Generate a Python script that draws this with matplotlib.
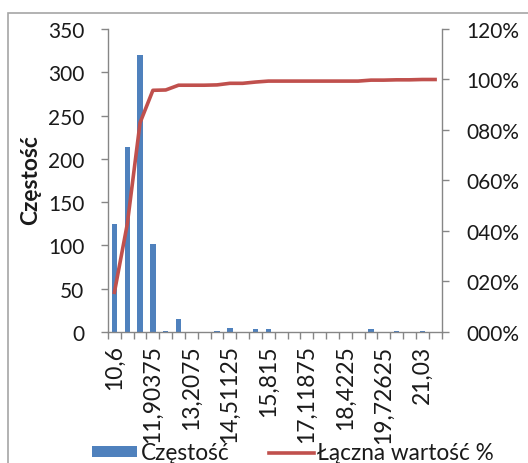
import matplotlib
matplotlib.use("Agg")
import matplotlib.pyplot as plt
from matplotlib.patches import Rectangle
from matplotlib.lines import Line2D
from matplotlib.ticker import FixedLocator, FuncFormatter

plt.rcParams['font.family'] = ['Lato', 'DejaVu Sans']

categories = ["10,6", "11,03458333", "11,46916667", "11,90375", "12,33833333",
              "12,77291667", "13,2075", "13,64208333", "14,07666667", "14,51125",
              "14,94583333", "15,38041667", "15,815", "16,24958333", "16,68416667",
              "17,11875", "17,55333333", "17,98791667", "18,4225", "18,85708333",
              "19,29166667", "19,72625", "20,16083333", "20,59541667", "21,03",
              "21,46458333"]
frequency = [125, 214, 320, 102, 1, 15, 0, 0, 1, 5, 0, 4, 3, 0, 0, 0, 0, 0, 0, 0,
             3, 0, 1, 0, 1, 0]
cumulative_pct = [0.1572, 0.4264, 0.8289, 0.9572, 0.9585, 0.9774, 0.9774, 0.9774,
                  0.9786, 0.9849, 0.9849, 0.9899, 0.9937, 0.9937, 0.9937, 0.9937,
                  0.9937, 0.9937, 0.9937, 0.9937, 0.9975, 0.9975, 0.9987, 0.9987,
                  1.0, 1.0]
left_ticks = [0, 50, 100, 150, 200, 250, 300, 350]
right_ticks = [0.0, 0.2, 0.4, 0.6, 0.8, 1.0, 1.2]
label_every = 3

blue = "#4F81BD"
red = "#C0504D"
axis_col = "#868686"
txt_col = "#1a1a1a"
fs_num = 15
fs_xlab = 16.5
fs_txt = 16.3

W, H = 528, 464
fig = plt.figure(figsize=(W / 100, H / 100), dpi=100)
fig.patch.set_facecolor("white")

# outer chart border
fig.patches.append(Rectangle((8 / W, -0.1), 1.2, (H - 14) / H + 0.1, transform=fig.transFigure,
                             fill=False, edgecolor="#a6a6a6", linewidth=1.2))

ax = fig.add_axes([108 / W, (H - 333) / H, (441.5 - 108) / W, (333 - 30) / H])
x = list(range(len(categories)))
ax.bar(x, frequency, width=0.42, color=blue, zorder=2)
ax.set_xlim(-0.5, len(categories) - 0.5)
ax.set_ylim(0, 350)
ax.set_yticks(left_ticks)
ax.set_xticks(x[::label_every])
ax.set_xticklabels(categories[::label_every], rotation=90, va="top", ha="center")
ax.xaxis.set_minor_locator(FixedLocator([i - 0.5 for i in range(len(categories) + 1)]))
ax.tick_params(axis="x", which="major", length=0, pad=9, labelsize=fs_xlab, labelcolor=txt_col)
ax.tick_params(axis="x", which="minor", length=5, color=axis_col, width=1)
ax.tick_params(axis="y", length=5, color=axis_col, width=1, labelsize=fs_num, labelcolor=txt_col, pad=12)
for s in ["top", "right"]:
    ax.spines[s].set_visible(False)
for s in ["left", "bottom"]:
    ax.spines[s].set_color(axis_col)
    ax.spines[s].set_linewidth(1)
ax.set_ylabel("Częstość", fontsize=fs_txt, fontweight="bold", color=txt_col)
ax.yaxis.set_label_coords(-0.2, 0.505)

ax2 = ax.twinx()
ax2.plot(x, cumulative_pct, color=red, linewidth=2.6, zorder=3, solid_joinstyle="round")
ax2.set_ylim(0, 1.2)
ax2.set_yticks(right_ticks)
ax2.yaxis.set_major_formatter(FuncFormatter(lambda v, p: f"{int(round(v * 100)):03d}%"))
ax2.tick_params(axis="y", length=5, color=axis_col, width=1, labelsize=fs_num, labelcolor=txt_col, pad=13)
for s in ["top", "left", "bottom"]:
    ax2.spines[s].set_visible(False)
ax2.spines["right"].set_color(axis_col)
ax2.spines["right"].set_linewidth(1)

handles = [Rectangle((0, 0), 1, 1, facecolor=blue, edgecolor="none"),
           Line2D([0], [0], color=red, linewidth=2.6)]
fig.legend(handles, ["Częstość", "Łączna wartość %"], loc="center",
           bbox_to_anchor=(293 / W, 1 - 454 / H), ncol=2, frameon=False,
           fontsize=fs_txt, handlelength=2.0, handleheight=0.35, handletextpad=0.15,
           columnspacing=1.75, labelcolor=txt_col, borderpad=0, borderaxespad=0)

fig.savefig("out.png", dpi=100, facecolor="white")
